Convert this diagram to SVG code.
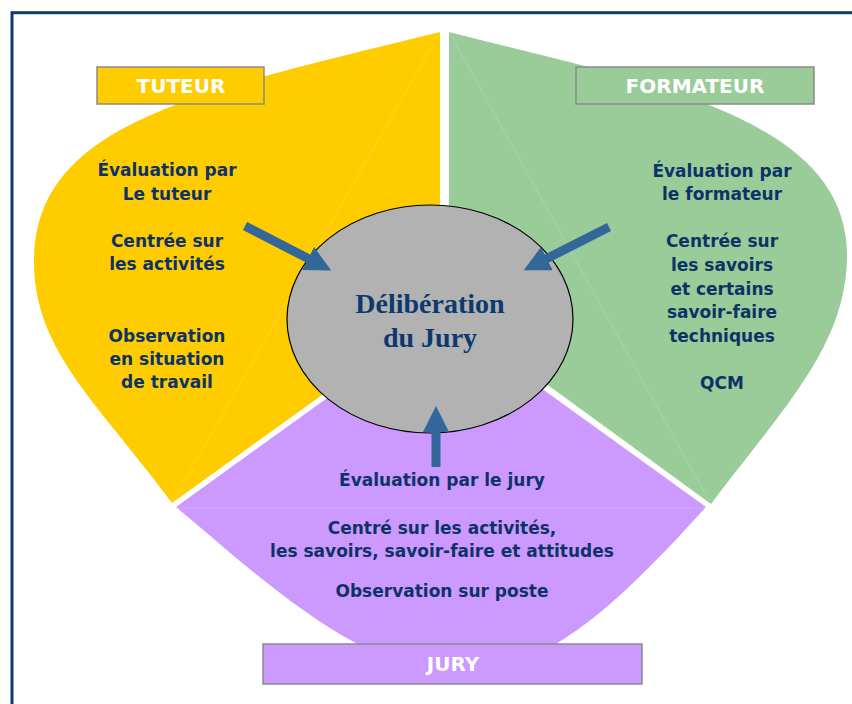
<svg xmlns="http://www.w3.org/2000/svg" width="852" height="704" viewBox="0 0 852 704">
  <style>
    .txt { font-family: 'DejaVu Sans', 'Liberation Sans', sans-serif; font-weight: bold; font-size: 17px; fill: #0d3366; text-anchor: middle; }
    .lbl { font-family: 'DejaVu Sans', 'Liberation Sans', sans-serif; font-weight: bold; font-size: 20px; fill: #ffffff; text-anchor: middle; }
    .box { stroke: #8a8a8a; stroke-width: 1.5; }
    .seam { fill: none; stroke: #ffffff; stroke-opacity: 0.25; stroke-width: 0.7; }
    .conn { stroke: #336699; stroke-width: 9; fill: none; marker-end: url(#head); }
    .title { font-family: 'Liberation Serif', 'Times New Roman', serif; font-weight: bold; font-size: 28px; fill: #0d3a6e; text-anchor: middle; }
  </style>
  <defs>
    <marker id="head" markerUnits="userSpaceOnUse" markerWidth="27" markerHeight="26" refX="1" refY="13" orient="auto">
      <path d="M0,0 L26,13 L0,26 Z" fill="#336699"/>
    </marker>
  </defs>
  <rect width="852" height="704" fill="#ffffff"/>
  <rect x="12" y="12.7" width="900" height="800" fill="none" stroke="#0e3b6c" stroke-width="3"/>

  <g id="node-jury">
    <path d="M176,507 C268,584 360,672 460,672 C540,672 605,619 706,507 L441,316 Z" fill="#cc99ff"/>
    <line class="seam" x1="176" y1="508" x2="706" y2="508"/>
    <text class="txt" x="442" y="486">Évaluation par le jury</text>
    <text class="txt" x="442" y="534">Centré sur les activités,</text>
    <text class="txt" x="442" y="557">les savoirs, savoir-faire et attitudes</text>
    <text class="txt" x="442" y="597">Observation sur poste</text>
    <rect class="box" x="263" y="644" width="379" height="40" fill="#cc99ff"/>
    <text class="lbl" x="453" y="671">JURY</text>
  </g>

  <g id="node-tuteur">
    <path d="M440,32 C197.5,92 34,122 34,262 C34,352 101,406 172,503 L440,310 Z" fill="#ffcc00"/>
    <line class="seam" x1="440" y1="32" x2="172" y2="503"/>
    <text class="txt" x="167" y="176">Évaluation par</text>
    <text class="txt" x="167" y="200">Le tuteur</text>
    <text class="txt" x="167" y="247">Centrée sur</text>
    <text class="txt" x="167" y="270">les activités</text>
    <text class="txt" x="167" y="342">Observation</text>
    <text class="txt" x="167" y="365">en situation</text>
    <text class="txt" x="167" y="388">de travail</text>
    <rect class="box" x="97" y="67" width="167" height="37" fill="#ffcc00"/>
    <text class="lbl" x="181" y="93">TUTEUR</text>
  </g>

  <g id="node-formateur">
    <path d="M449,32 C643,82 847,115 847,255 C847,345 784,407 711,504 L449,313 Z" fill="#99cc99"/>
    <line class="seam" x1="449" y1="32" x2="711" y2="504"/>
    <text class="txt" x="722" y="177">Évaluation par</text>
    <text class="txt" x="722" y="200">le formateur</text>
    <text class="txt" x="722" y="247">Centrée sur</text>
    <text class="txt" x="722" y="271">les savoirs</text>
    <text class="txt" x="722" y="295">et certains</text>
    <text class="txt" x="722" y="318">savoir-faire</text>
    <text class="txt" x="722" y="342">techniques</text>
    <text class="txt" x="722" y="389">QCM</text>
    <rect class="box" x="576" y="67" width="238" height="37" fill="#99cc99"/>
    <text class="lbl" x="695" y="93">FORMATEUR</text>
  </g>

  <g id="node-deliberation">
    <ellipse cx="430" cy="319" rx="143" ry="114" fill="#b2b2b2" stroke="#000000" stroke-width="1.2"/>
    <text class="title" x="430" y="313">Délibération</text>
    <text class="title" x="430" y="347">du Jury</text>
  </g>

  <g id="connectors">
    <line class="conn" x1="245" y1="226" x2="309" y2="259"/>
    <line class="conn" x1="609" y1="227" x2="546" y2="259"/>
    <line class="conn" x1="436" y1="467" x2="436" y2="431"/>
  </g>
</svg>
